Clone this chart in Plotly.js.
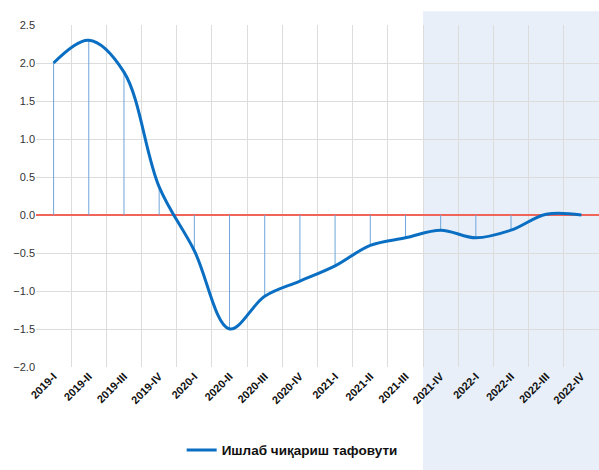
<!DOCTYPE html>
<html>
<head>
<meta charset="utf-8">
<script src="https://cdn.plot.ly/plotly-3.0.1.min.js"></script>
<style>html,body{margin:0;padding:0;background:#fff;}#chart{width:599px;height:470px;}</style>
</head>
<body>
<div id="chart"></div>
<script>
const categories = ["2019-I","2019-II","2019-III","2019-IV","2020-I","2020-II","2020-III","2020-IV","2021-I","2021-II","2021-III","2021-IV","2022-I","2022-II","2022-III","2022-IV"];
const outputGap = [2.0, 2.3, 1.88, 0.37, -0.47, -1.5, -1.07, -0.87, -0.67, -0.4, -0.3, -0.2, -0.3, -0.2, 0.01, 0.0];
const seriesName = "Ишлаб чиқариш тафовути";
const forecastStart = "2021-IV";

const dropX = [], dropY = [];
categories.forEach((c, i) => { dropX.push(c, c, null); dropY.push(outputGap[i], 0, null); });

const forecastIdx = categories.indexOf(forecastStart);

const traces = [
  {x: dropX, y: dropY, mode: "lines", line: {color: "#6fa6dc", width: 1}, showlegend: false, hoverinfo: "skip"},
  {x: categories, y: outputGap, mode: "lines", name: seriesName, line: {color: "#0a6fc2", width: 3, shape: "spline", smoothing: 1}}
];

const layout = {
  width: 599, height: 470,
  margin: {l: 36, r: 0, t: 25, b: 103},
  paper_bgcolor: "#ffffff",
  plot_bgcolor: "rgba(0,0,0,0)",
  font: {family: "Liberation Sans, Arial, sans-serif", color: "#333"},
  xaxis: {
    type: "category", range: [-0.5, categories.length - 0.5],
    tickson: "boundaries", showgrid: true, gridcolor: "#dcdcdc", gridwidth: 1,
    ticks: "", tickangle: -45,
    tickfont: {size: 11, color: "#111", family: "Liberation Sans, Arial, sans-serif", weight: "bold"},
    showline: false, zeroline: false
  },
  yaxis: {
    range: [-2, 2.5], dtick: 0.5, tickformat: ".1f",
    showgrid: true, gridcolor: "#dcdcdc", gridwidth: 1,
    zeroline: true, zerolinecolor: "#f0645a", zerolinewidth: 2,
    tickfont: {size: 11, color: "#333"}, ticks: "", showline: false
  },
  shapes: [{
    type: "rect", layer: "below",
    xref: "x", yref: "paper",
    x0: forecastIdx - 0.5, x1: categories.length - 0.5,
    y0: -0.31, y1: 1.04,
    fillcolor: "#e8eff8", line: {width: 0}
  }],
  showlegend: true,
  legend: {orientation: "h", x: 0.455, xanchor: "center", y: -0.243, yanchor: "middle",
    font: {size: 13.5, color: "#111", weight: "bold"}, bgcolor: "rgba(0,0,0,0)"}
};

Plotly.newPlot("chart", traces, layout, {displayModeBar: false, staticPlot: true});
</script>
</body>
</html>
